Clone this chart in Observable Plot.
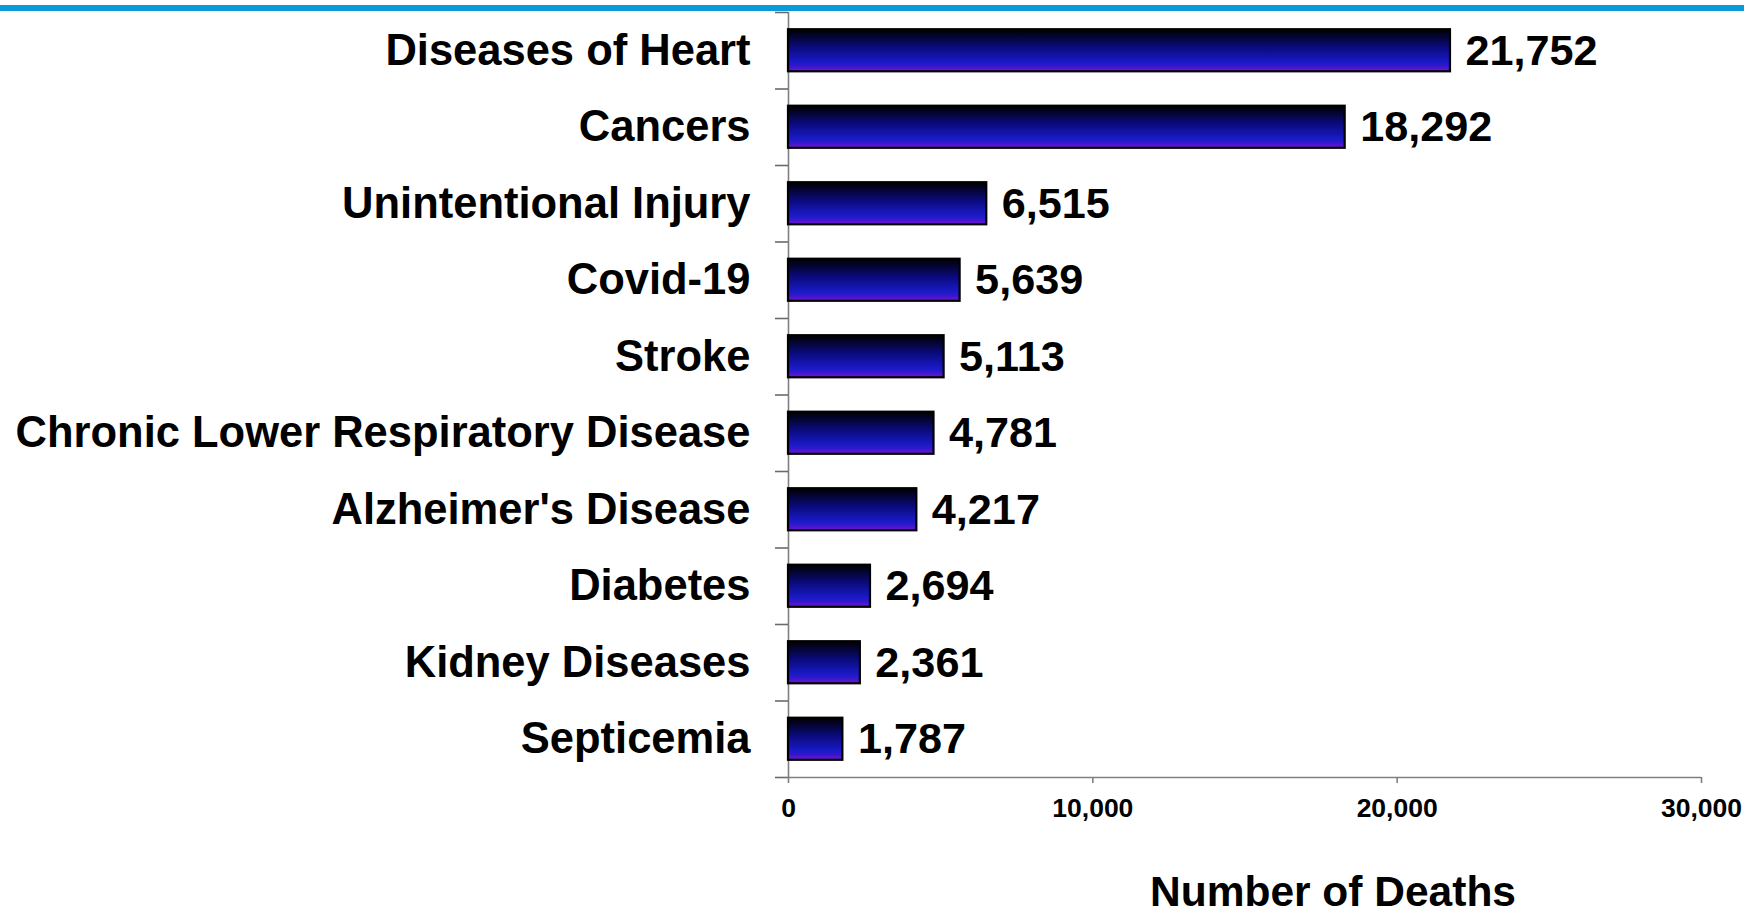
<!DOCTYPE html>
<html>
<head>
<meta charset="utf-8">
<script src="https://cdn.jsdelivr.net/npm/d3@7"></script>
<script src="https://cdn.jsdelivr.net/npm/@observablehq/plot@0.6"></script>
<style>
  html, body { margin: 0; padding: 0; background: #ffffff; }
  #wrap { position: relative; width: 1744px; height: 915px; overflow: hidden; }
  #topline { position: absolute; left: 0; top: 5px; width: 1744px; height: 6px; background: #0a9ad9; }
  #chart svg { display: block; }
  #chart svg, #chart svg text { font-family: "Liberation Sans", Arimo, Arial, Helvetica, sans-serif !important; font-weight: bold; }
</style>
</head>
<body>
<div id="wrap">
  <div id="chart"></div>
  <div id="topline"></div>
</div>
<script>
const categories = [
  "Diseases of Heart",
  "Cancers",
  "Unintentional Injury",
  "Covid-19",
  "Stroke",
  "Chronic Lower Respiratory Disease",
  "Alzheimer's Disease",
  "Diabetes",
  "Kidney Diseases",
  "Septicemia"
];
const deaths = [21752, 18292, 6515, 5639, 5113, 4781, 4217, 2694, 2361, 1787];
const xTicks = [0, 10000, 20000, 30000];
const xLabel = "Number of Deaths";

const data = categories.map((c, i) => ({cause: c, deaths: deaths[i], i}));
const rows = d3.range(categories.length + 1);          // band boundaries
const centers = categories.map((c, i) => i + 0.5);      // band centers
const fmt = d3.format(",");
const FONT = "Liberation Sans, Arimo, Arial, sans-serif";

const gradientDefs = () => {
  const defs = d3.create("svg:defs");
  const g = defs.append("linearGradient")
    .attr("id", "barGrad")
    .attr("x1", 0).attr("y1", 0).attr("x2", 0).attr("y2", 1);
  [[0, "#000000"], [0.42, "#0a0a7a"], [0.78, "#1a1ac6"], [0.87, "#2f18cc"], [1, "#7a12d8"]]
    .forEach(([o, c]) => g.append("stop").attr("offset", o).attr("stop-color", c));
  return defs.node();
};

const chart = Plot.plot({
  width: 1744,
  height: 915,
  marginLeft: 788,
  marginRight: 43,
  marginTop: 12,
  marginBottom: 138,
  style: {fontFamily: FONT, fontWeight: "bold", color: "#000", background: "#fff"},
  x: {domain: [0, 30000]},
  y: {domain: [categories.length, 0]},
  marks: [
    gradientDefs,
    Plot.ruleX([0], {stroke: "#808080", strokeWidth: 1.6}),
    Plot.ruleY([categories.length], {stroke: "#808080", strokeWidth: 1.6}),
    Plot.axisY({ticks: rows, tickSize: 13, tickFormat: () => "", stroke: "#6b6b6b", strokeWidth: 1.6, label: null}),
    Plot.axisY({ticks: centers, tickSize: 0, tickPadding: 38, tickFormat: d => categories[Math.floor(d)], fontSize: 43.5, fontWeight: "bold", fontFamily: FONT, fill: "#000", label: null}),
    Plot.axisX({ticks: xTicks, tickSize: 6, tickPadding: 15, tickFormat: fmt, fontSize: 26.5, fontWeight: "bold", fontFamily: FONT, stroke: "#808080", strokeWidth: 1.6, label: null}),
    Plot.rectX(data, {x1: 0, x2: "deaths", y1: d => d.i + 0.225, y2: d => d.i + 0.775, fill: "url(#barGrad)", stroke: "#000", strokeWidth: 2.2}),
    Plot.text(data, {x: "deaths", y: d => d.i + 0.5, text: d => fmt(d.deaths), dx: 15, textAnchor: "start", fontSize: 43.2, fontWeight: "bold", fontFamily: FONT, fill: "#000"}),
    Plot.text([xLabel], {frameAnchor: "bottom", lineAnchor: "middle", text: d => d, dx: 88, dy: 115, fontSize: 42.5, fontWeight: "bold", fontFamily: FONT, fill: "#000"})
  ]
});
document.getElementById("chart").appendChild(chart);
</script>
</body>
</html>
